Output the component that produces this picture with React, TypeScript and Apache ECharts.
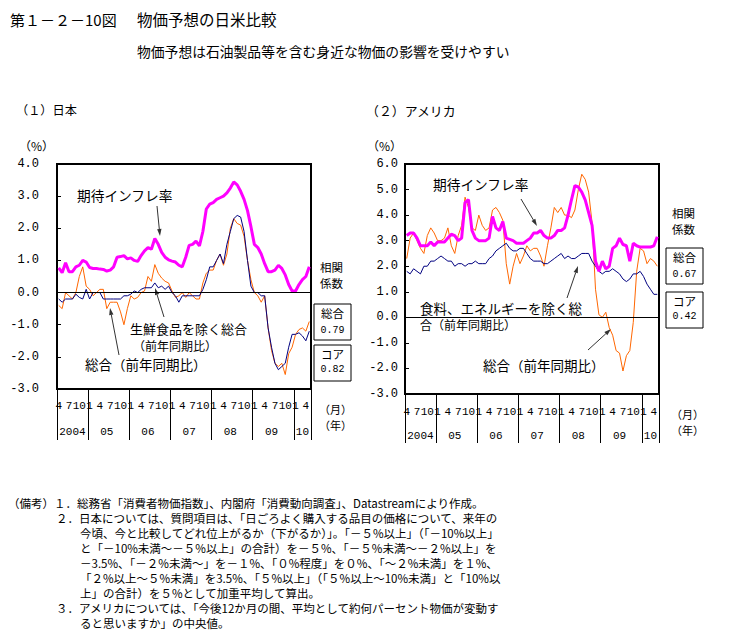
import React, { useEffect, useRef } from "react";
import * as echarts from "echarts";

// ---------- data ----------
const firstYear = 2004;
const firstMonth = 4;
const monthCount = 74; // Apr 2004 - May 2010
const yearLabels = ["2004", "05", "06", "07", "08", "09", "10"];

// Japan
const jpExpected = [
  0.77, 0.62, 0.93, 0.65, 0.65, 0.8, 0.85, 1.0, 0.95,
  0.78, 0.75, 0.75, 0.73, 0.72, 0.67, 0.7, 0.8, 1.1, 1.12, 1.15, 1.05,
  1.08, 1.0, 0.97, 1.15, 1.3, 1.4, 1.35, 1.68, 1.5, 1.25, 1.1, 1.02,
  0.98, 0.95, 0.85, 0.8, 1.1, 1.47, 1.5, 1.6, 1.45, 1.9, 2.6, 2.75,
  2.8, 2.9, 2.95, 3.0, 3.1, 3.25, 3.44, 3.35, 3.15, 2.9, 2.55, 2.05,
  1.5, 1.4, 1.2, 0.9, 0.65, 0.65, 0.7, 0.85, 0.75, 0.55, 0.25, 0.05,
  0.05, 0.25, 0.4, 0.5, 0.8,
];
const jpTotal = [
  -0.4, -0.5, 0.0, -0.1, -0.2, 0.0, 0.5, 0.8, 0.2,
  0.1, -0.1, 0.0, 0.1, 0.1, -0.5, -0.3, -0.3, -0.3, -0.6, -1.0, -0.5,
  -0.1, -0.2, -0.15, 0.0, 0.05, 0.5, 0.35, 0.87, 0.6, 0.45, 0.35, 0.3,
  0.05, -0.15, -0.1, 0.0, -0.15, 0.0, -0.1, -0.2, -0.2, 0.3, 0.6, 0.7,
  0.7, 1.0, 1.2, 0.85, 1.2, 2.0, 2.3, 2.15, 2.1, 1.75, 1.0, 0.4,
  0.0, -0.1, -0.3, -0.1, -1.1, -1.8, -2.2, -2.3, -2.2, -2.55, -1.9, -1.7,
  -1.3, -1.15, -1.1, -1.2, -0.9,
];
const jpCore = [
  -0.2, -0.3, -0.2, -0.2, -0.2, -0.05, -0.15, -0.2, 0.1,
  -0.2, 0.0, 0.0, 0.0, -0.2, -0.2, -0.2, -0.2, -0.2, -0.2, -0.1, -0.1,
  -0.05, 0.05, 0.0, 0.1, 0.15, 0.15, 0.15, 0.3, 0.15, 0.2, 0.1, 0.2,
  0.0, -0.1, -0.3, -0.1, -0.1, -0.1, -0.1, -0.1, -0.1, 0.1, 0.4, 0.8,
  0.8, 1.0, 1.2, 0.9, 1.5, 1.9, 2.3, 2.4, 2.35, 1.9, 1.0, 0.2,
  0.0, 0.0, -0.1, -0.1, -1.1, -1.7, -2.2, -2.4, -2.3, -2.2, -1.7, -1.3,
  -1.3, -1.25, -1.35, -1.5, -1.2,
];

// United States
const usExpected = [
  3.2, 3.3, 3.3, 3.1, 2.8, 2.8, 2.8, 2.95, 2.8,
  2.95, 2.95, 2.95, 3.1, 3.25, 3.2, 3.0, 3.1, 4.5, 4.6, 3.4, 3.1,
  3.0, 3.0, 3.0, 3.1, 3.95, 3.5, 3.4, 3.75, 3.1, 3.05, 3.0, 2.9,
  2.9, 2.9, 3.0, 3.1, 3.3, 3.3, 3.4, 3.2, 3.1, 3.1, 3.2, 3.4,
  3.4, 3.5, 4.0, 4.6, 5.15, 5.1, 4.9, 4.6, 4.1, 3.6, 2.2, 1.8,
  2.2, 1.9, 2.0, 2.7, 2.8, 3.1, 2.85, 2.8, 2.2, 2.9, 2.8, 2.75,
  2.75, 2.75, 2.75, 2.8, 3.15,
];
const usTotal = [
  2.3, 3.1, 3.3, 3.0, 2.7, 2.5, 3.2, 3.5, 3.3,
  3.0, 3.0, 3.1, 3.5, 2.8, 2.5, 3.2, 3.6, 4.7, 4.3, 3.5, 3.4,
  4.0, 3.6, 3.4, 3.5, 4.2, 4.3, 4.1, 3.8, 2.1, 1.3, 2.0, 2.5,
  2.1, 2.4, 2.8, 2.6, 2.7, 2.7, 2.4, 2.0, 2.8, 3.5, 4.3, 4.1,
  4.3, 4.0, 4.0, 3.9, 4.2, 5.0, 5.6, 5.4, 4.9, 3.7, 1.1, 0.1,
  0.0, 0.2, -0.4, -0.7, -1.3, -1.4, -2.1, -1.5, -1.3, -0.2, 1.8, 2.7,
  2.6, 2.1, 2.3, 2.2, 2.0,
];
const usCore = [
  1.8, 1.7, 1.9, 1.8, 1.7, 2.0, 2.0, 2.2, 2.2,
  2.3, 2.4, 2.3, 2.2, 2.2, 2.0, 2.1, 2.1, 2.0, 2.1, 2.1, 2.2,
  2.1, 2.1, 2.1, 2.3, 2.4, 2.6, 2.7, 2.8, 2.9, 2.7, 2.6, 2.6,
  2.7, 2.7, 2.5, 2.3, 2.2, 2.2, 2.2, 2.1, 2.1, 2.2, 2.3, 2.4,
  2.5, 2.3, 2.4, 2.3, 2.3, 2.4, 2.5, 2.5, 2.5, 2.2, 2.0, 1.8,
  1.7, 1.8, 1.8, 1.9, 1.8, 1.7, 1.5, 1.4, 1.5, 1.7, 1.7, 1.8,
  1.6, 1.3, 1.1, 0.9, 0.9,
];

const jpCorr = ["0.79", "0.82"];
const usCorr = ["0.67", "0.42"];

const notes = [
  "（備考）１．総務省「消費者物価指数」、内閣府「消費動向調査」、Datastreamにより作成。",
  "２．日本については、質問項目は、「日ごろよく購入する品目の価格について、来年の",
  "今頃、今と比較してどれ位上がるか（下がるか）」。「－５%以上」（「－10%以上」",
  "と「－10%未満～－５%以上」の合計）を－５%、「－５%未満～－２%以上」を",
  "－3.5%、「－２%未満～」を－１%、「０%程度」を０%、「～２%未満」を１%、",
  "「２%以上～５%未満」を3.5%、「５%以上」（「５%以上～10%未満」と「10%以",
  "上」の合計）を５%として加重平均して算出。",
  "３．アメリカについては、「今後12か月の間、平均として約何パーセント物価が変動す",
  "ると思いますか」の中央値。",
];

// ---------- helpers ----------
const categories: string[] = [];
for (let k = 0; k < monthCount; k++) {
  const m = ((firstMonth - 1 + k) % 12) + 1;
  const y = firstYear + Math.floor((firstMonth - 1 + k) / 12);
  categories.push(`${y}-${m}`);
}
const catYear = (v: string) => parseInt(v.split("-")[0], 10);
const catMonth = (v: string) => parseInt(v.split("-")[1], 10);
// index of the centre month of each year present
const yearCenterIdx: Record<number, number> = {};
{
  const firsts: Record<number, number> = {};
  const lasts: Record<number, number> = {};
  categories.forEach((c, i) => {
    const y = catYear(c);
    if (firsts[y] === undefined) firsts[y] = i;
    lasts[y] = i;
  });
  Object.keys(firsts).forEach((k) => {
    const y = Number(k);
    yearCenterIdx[y] = Math.floor((firsts[y] + lasts[y]) / 2);
  });
}

const JP = "'Noto Sans CJK JP', sans-serif";
const NUM = "'Liberation Mono', monospace";

function txt(text: string, x: number, y: number, size: number, align = "left", family = JP) {
  return {
    type: "text",
    x,
    y,
    silent: true,
    style: {
      text,
      fontSize: size,
      fontFamily: family,
      fill: "#000",
      align,
      verticalAlign: "middle",
      textAlign: align,
      textVerticalAlign: "middle",
    },
  };
}

function arrow(x1: number, y1: number, x2: number, y2: number) {
  const dx = x2 - x1;
  const dy = y2 - y1;
  const len = Math.hypot(dx, dy);
  const ux = dx / len;
  const uy = dy / len;
  const hl = 7;
  const hw = 2.2;
  const bx = x2 - ux * hl;
  const by = y2 - uy * hl;
  const px = -uy;
  const py = ux;
  return [
    {
      type: "line",
      silent: true,
      shape: { x1, y1, x2: bx, y2: by },
      style: { stroke: "#333", lineWidth: 1 },
    },
    {
      type: "polygon",
      silent: true,
      shape: {
        points: [
          [x2, y2],
          [bx + px * hw, by + py * hw],
          [bx - px * hw, by - py * hw],
        ],
      },
      style: { fill: "#333" },
    },
  ];
}

function corrBlock(x: number, yTitle: number, box1: number, box2: number, vals: string[], monthY: number) {
  const w = 37;
  const h = 36;
  const cx = x + w / 2;
  return [
    txt("相関", x + 6, yTitle, 11.5),
    txt("係数", x + 6, yTitle + 16, 11.5),
    { type: "rect", silent: true, shape: { x, y: box1, width: w, height: h }, style: { fill: "#fff", stroke: "#000", lineWidth: 1 } },
    txt("総合", cx, box1 + 9, 11.5, "center"),
    txt(vals[0], cx, box1 + 26, 10, "center", NUM),
    { type: "rect", silent: true, shape: { x, y: box2, width: w, height: h }, style: { fill: "#fff", stroke: "#000", lineWidth: 1 } },
    txt("コア", cx, box2 + 9, 11.5, "center"),
    txt(vals[1], cx, box2 + 24, 10, "center", NUM),
    txt("（月）", cx + 3, monthY, 11, "center"),
    txt("（年）", cx + 3, monthY + 16, 11, "center"),
  ];
}

function monthAxis(grid: number, margin: number) {
  return {
    gridIndex: grid,
    type: "category",
    position: "bottom",
    data: categories,
    boundaryGap: true,
    axisLine: { show: false },
    axisTick: { show: false },
    splitLine: { show: false },
    axisLabel: {
      interval: 2,
      margin,
      fontSize: 11,
      fontFamily: NUM,
      color: "#000",
      formatter: (v: string) => String(catMonth(v)),
    },
  };
}

function yearAxis(grid: number, margin: number, tickLen: number) {
  return {
    gridIndex: grid,
    type: "category",
    position: "bottom",
    data: categories,
    boundaryGap: true,
    axisLine: { show: false },
    splitLine: { show: false },
    axisTick: {
      show: true,
      length: tickLen,
      interval: (i: number, v: string) => i === 0 || catMonth(v) === 1,
      lineStyle: { color: "#000", width: 1 },
    },
    axisLabel: {
      interval: (i: number, v: string) => yearCenterIdx[catYear(v)] === i,
      margin,
      fontSize: 11,
      fontFamily: NUM,
      color: "#000",
      formatter: (v: string) => yearLabels[catYear(v) - firstYear],
    },
  };
}

function valueAxis(grid: number, min: number, max: number, margin: number) {
  return {
    gridIndex: grid,
    type: "value",
    min,
    max,
    interval: 1,
    axisLine: { show: false },
    splitLine: { show: false },
    axisTick: { show: true, inside: true, length: 4, lineStyle: { color: "#000" } },
    axisLabel: {
      margin,
      fontSize: 12,
      fontFamily: NUM,
      color: "#000",
      formatter: (v: number) => v.toFixed(1),
    },
  };
}

function lineSeries(name: string, data: number[], color: string, width: number, xi: number, yi: number, zero = false) {
  const s: any = {
    name,
    type: "line",
    data,
    xAxisIndex: xi,
    yAxisIndex: yi,
    symbol: "none",
    lineStyle: { color, width },
    itemStyle: { color },
    silent: true,
  };
  if (zero) {
    s.markLine = {
      silent: true,
      symbol: ["none", "none"],
      label: { show: false },
      lineStyle: { color: "#000", width: 1, type: "solid" },
      data: [{ yAxis: 0 }],
    };
  }
  return s;
}

const MAGENTA = "#FF00FF";
const NAVY = "#000080";
const ORANGE = "#FF6600";

export default function App() {
  const ref = useRef<HTMLDivElement>(null);
  useEffect(() => {
    if (!ref.current) return;
    const chart = echarts.init(ref.current, undefined, { renderer: "svg" });
    const graphics: any[] = [
      txt("第１－２－10図", 10, 19, 15),
      txt("物価予想の日米比較", 137, 19, 15.5),
      txt("物価予想は石油製品等を含む身近な物価の影響を受けやすい", 137, 51, 13.8),
      txt("（１）日本", 16, 110, 12.2),
      txt("（２）アメリカ", 366, 110, 12.9),
      txt("（%）", 19, 145, 12),
      txt("（%）", 367, 145, 12),
      // Japan annotations
      txt("期待インフレ率", 77, 195, 13.7),
      ...arrow(157, 206, 160, 236),
      txt("生鮮食品を除く総合", 130, 328.5, 13),
      txt("（前年同期比）", 133, 345, 12),
      ...arrow(164, 317, 155, 288),
      txt("総合（前年同期比）", 85, 364, 13.5),
      ...arrow(119, 355, 110, 308),
      // US annotations
      txt("期待インフレ率", 433, 184, 13.7),
      ...arrow(521, 199, 537, 226),
      txt("食料、エネルギーを除く総", 420, 307.5, 13.5),
      txt("合（前年同期比）", 420, 324.5, 12),
      ...arrow(567, 298, 578, 266),
      txt("総合（前年同期比）", 483, 365, 13.5),
      ...arrow(588, 350, 611, 329),
      ...corrBlock(314, 267, 304, 345, jpCorr, 409),
      ...corrBlock(666, 213, 248, 292, usCorr, 414),
    ];
    notes.forEach((line, i) => {
      const x = i === 0 ? 8 : line.startsWith("２．") || line.startsWith("３．") ? 56 : 80;
      graphics.push(txt(line, x, 503 + i * 15, 11.5));
    });

    chart.setOption({
      animation: false,
      backgroundColor: "#fff",
      grid: [
        { left: 57, top: 164, width: 254, height: 225, show: true, borderColor: "#000", borderWidth: 2, backgroundColor: "transparent" },
        { left: 405, top: 164, width: 254, height: 230, show: true, borderColor: "#000", borderWidth: 2, backgroundColor: "transparent" },
      ],
      xAxis: [monthAxis(0, 11), yearAxis(0, 37, 51), monthAxis(1, 12), yearAxis(1, 36, 49)],
      yAxis: [valueAxis(0, -3, 4, 18), valueAxis(1, -3, 6, 7)],
      series: [
        lineSeries("総合（日本）", jpTotal, ORANGE, 1, 0, 0, true),
        lineSeries("生鮮食品を除く総合", jpCore, NAVY, 1, 0, 0),
        lineSeries("期待インフレ率（日本）", jpExpected, MAGENTA, 3, 0, 0),
        lineSeries("総合（米国）", usTotal, ORANGE, 1, 2, 1, true),
        lineSeries("食料、エネルギーを除く総合", usCore, NAVY, 1, 2, 1),
        lineSeries("期待インフレ率（米国）", usExpected, MAGENTA, 3, 2, 1),
      ],
      graphic: graphics,
    });
    return () => chart.dispose();
  }, []);
  return (
    <div
      ref={ref}
      style={{ position: "absolute", left: 0, top: 0, width: 731, height: 641, background: "#fff" }}
    />
  );
}
